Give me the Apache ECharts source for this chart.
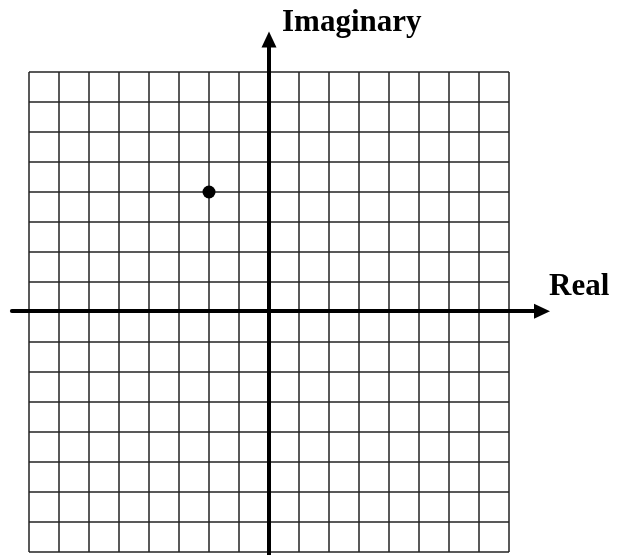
<!DOCTYPE html>
<html>
<head>
<meta charset="utf-8">
<script src="https://cdn.jsdelivr.net/npm/echarts@6/dist/echarts.min.js"></script>
<style>
  html, body { margin: 0; padding: 0; background: #fff; }
  #main { width: 624px; height: 555px; }
</style>
</head>
<body>
<div id="main"></div>
<script>
// complex plane, one point
var realRange = [-8, 8];
var imagRange = [-8, 8];
var points = [[-2, 4]];
// how far the two drawn axes run (in plane units)
var realAxisEnds = [-8.57, 9.1];
var imagAxisEnds = [-8.15, 9.08];
var axisNames = ['Real', 'Imaginary'];

var myChart = echarts.init(document.getElementById('main'));

var unit = 30; // px per unit
var zeroX = 29 + (0 - realRange[0]) * unit;
var zeroY = 72 + (imagRange[1] - 0) * unit;

var gridLine = { show: true, lineStyle: { color: '#222', width: 1.5 } };
var noAxis = { show: false };
var labelStyle = { fontFamily: 'Liberation Serif', fontWeight: 'bold', fontSize: 31, color: '#000' };
var arrowLine = {
    show: true, onZero: true,
    symbol: ['none', 'triangle'], symbolSize: [15, 16], symbolOffset: [0, 0],
    lineStyle: { color: '#000', width: 4 }
};

myChart.setOption({
    animation: false,
    backgroundColor: '#fff',
    grid: [
        { left: 29, top: 72, width: 480, height: 480 },
        // same scale, wider box: carries the two main axes with arrows
        {
            left: zeroX + realAxisEnds[0] * unit,
            width: (realAxisEnds[1] - realAxisEnds[0]) * unit,
            top: zeroY - imagAxisEnds[1] * unit,
            height: (imagAxisEnds[1] - imagAxisEnds[0]) * unit
        }
    ],
    xAxis: [{
        type: 'value', gridIndex: 0, min: realRange[0], max: realRange[1], interval: 1,
        axisLine: noAxis, axisTick: noAxis, axisLabel: noAxis,
        splitLine: gridLine
    }, {
        type: 'value', gridIndex: 1, min: realAxisEnds[0], max: realAxisEnds[1],
        axisLine: arrowLine, axisTick: noAxis, axisLabel: noAxis, splitLine: noAxis
    }],
    yAxis: [{
        type: 'value', gridIndex: 0, min: imagRange[0], max: imagRange[1], interval: 1,
        axisLine: noAxis, axisTick: noAxis, axisLabel: noAxis,
        splitLine: gridLine
    }, {
        type: 'value', gridIndex: 1, min: imagAxisEnds[0], max: imagAxisEnds[1],
        axisLine: arrowLine, axisTick: noAxis, axisLabel: noAxis, splitLine: noAxis
    }],
    title: [
        { text: axisNames[1], left: 277, top: 2, textStyle: labelStyle },
        { text: axisNames[0], left: 544, top: 266, textStyle: labelStyle }
    ],
    series: [{
        type: 'scatter',
        xAxisIndex: 0, yAxisIndex: 0,
        symbolSize: 13,
        itemStyle: { color: '#000', opacity: 1 },
        data: points,
        z: 5
    }]
});
</script>
</body>
</html>
